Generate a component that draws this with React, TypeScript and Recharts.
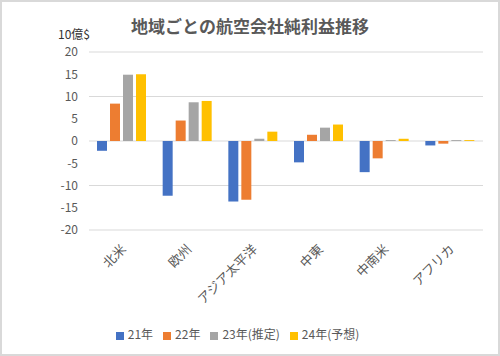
import { BarChart, Bar, XAxis, YAxis, CartesianGrid, Legend } from "recharts";

const regions = ["北米", "欧州", "アジア太平洋", "中東", "中南米", "アフリカ"];
const y21 = [-2.2, -12.3, -13.6, -4.8, -7.0, -1.0];
const y22 = [8.4, 4.6, -13.2, 1.4, -3.9, -0.6];
const y23 = [14.9, 8.7, 0.5, 3.0, 0.2, 0.2];
const y24 = [15.0, 9.0, 2.1, 3.7, 0.5, 0.2];
const yTicks = [-20, -15, -10, -5, 0, 5, 10, 15, 20];

const data = regions.map((name, i) => ({
  name,
  y21: y21[i],
  y22: y22[i],
  y23: y23[i],
  y24: y24[i],
}));

const font = "'Noto Sans CJK JP', 'Noto Sans', sans-serif";
const grey = "#595959";

function XTick({ x, y, payload }: any) {
  const tx = x + 5;
  const ty = y + 12;
  return (
    <text
      x={tx}
      y={ty}
      transform={`rotate(-45, ${tx}, ${ty})`}
      textAnchor="end"
      fontSize={13}
      fill={grey}
      fontFamily={font}
    >
      {payload.value}
    </text>
  );
}

export default function App() {
  return (
    <div
      style={{
        position: "fixed",
        left: 0,
        top: 0,
        width: 500,
        height: 356,
        boxSizing: "border-box",
        border: "2px solid #d9d9d9",
        background: "#fff",
        fontFamily: font,
      }}
    >
      <div
        style={{
          position: "absolute",
          left: 0,
          width: 496,
          top: 11,
          textAlign: "center",
          fontSize: 17,
          fontWeight: 700,
          color: grey,
        }}
      >
        地域ごとの航空会社純利益推移
      </div>
      <div
        style={{
          position: "absolute",
          left: 56,
          top: 23,
          fontSize: 12,
          color: "#333",
        }}
      >
        10億$
      </div>
      <BarChart
        width={496}
        height={352}
        data={data}
        margin={{ top: 50, right: 15, bottom: 0, left: 0 }}
        barGap={3}
        barSize={10}
      >
        <CartesianGrid vertical={false} stroke="#d9d9d9" />
        <XAxis
          dataKey="name"
          axisLine={false}
          tickLine={false}
          interval={0}
          height={107}
          tick={<XTick />}
        />
        <YAxis
          width={87}
          domain={[-20, 20]}
          ticks={yTicks}
          axisLine={false}
          tickLine={false}
          tickMargin={5}
          tick={{ fontSize: 12, fill: grey, fontFamily: font }}
        />
        <Legend
          verticalAlign="bottom"
          iconType="square"
          iconSize={8}
          wrapperStyle={{ fontSize: 12, color: grey, bottom: 12 }}
          formatter={(v) => <span style={{ color: grey }}>{v}</span>}
        />
        <Bar dataKey="y21" name="21年" fill="#4472C4" isAnimationActive={false} />
        <Bar dataKey="y22" name="22年" fill="#ED7D31" isAnimationActive={false} />
        <Bar dataKey="y23" name="23年(推定)" fill="#A5A5A5" isAnimationActive={false} />
        <Bar dataKey="y24" name="24年(予想)" fill="#FFC000" isAnimationActive={false} />
      </BarChart>
    </div>
  );
}
